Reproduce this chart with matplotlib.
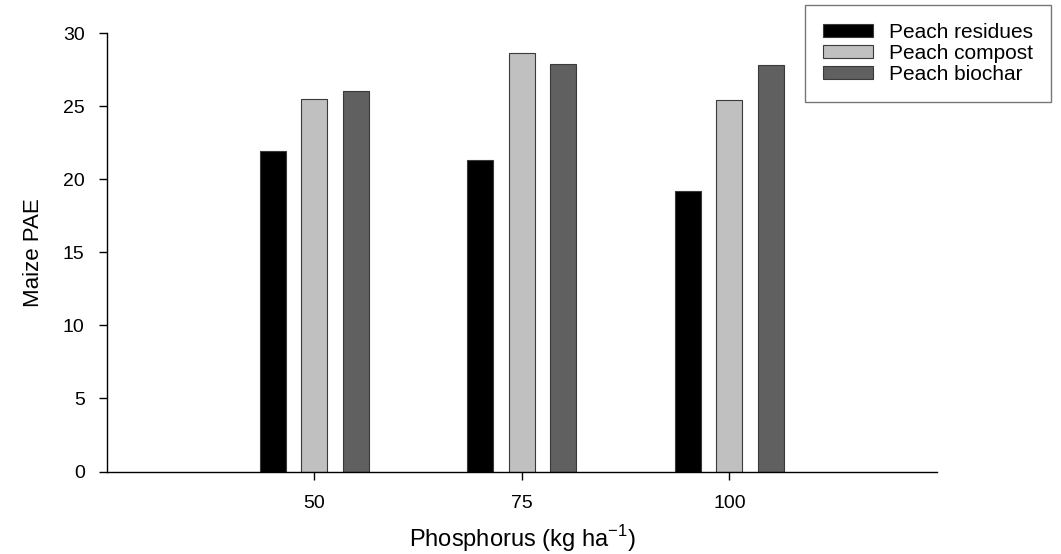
import numpy as np
import matplotlib.pyplot as plt
from matplotlib.patches import Patch

plt.rcParams['font.family'] = ['Liberation Sans', 'DejaVu Sans']

# 数据
phosphorus = ['50', '75', '100']
series_names = ['Peach residues', 'Peach compost', 'Peach biochar']
residues = [21.9, 21.3, 19.2]
compost = [25.5, 28.6, 25.4]
biochar = [26.0, 27.9, 27.8]

colors = ['#000000', '#c0c0c0', '#606060']

fig = plt.figure(figsize=(10.61, 5.54), dpi=100)
ax = fig.add_axes([0.1008, 0.1489, 0.7823, 0.7915])

x = np.arange(1, len(phosphorus) + 1)
width = 0.125
offsets = [-0.2, 0.0, 0.2]
for vals, off, c in zip([residues, compost, biochar], offsets, colors):
    ax.bar(x + off, vals, width, color=c, edgecolor='#3a3a3a', linewidth=0.8)

ax.set_xlim(0, 4)
ax.set_ylim(0, 30)
ax.set_xticks(x)
ax.set_xticklabels(phosphorus)
ax.set_yticks(np.arange(0, 31, 5))

ax.spines['top'].set_visible(False)
ax.spines['right'].set_visible(False)
ax.spines['left'].set_linewidth(1.0)
ax.spines['bottom'].set_linewidth(1.0)
ax.tick_params(axis='x', direction='out', length=6, width=1, pad=11, labelsize=14)
ax.tick_params(axis='y', direction='out', length=6, width=1, pad=10, labelsize=14)

ax.set_xlabel('Phosphorus (kg ha$^{\\mathregular{-1}}$)', fontsize=17, labelpad=8)
ax.set_ylabel('Maize PAE', fontsize=16, labelpad=14)

# 图例
handles = [Patch(facecolor=c, edgecolor='#3a3a3a', linewidth=0.8) for c in colors]
leg = fig.legend(handles, series_names, loc='upper left',
                 bbox_to_anchor=(805 / 1061, 1 - 5 / 554),
                 fontsize=15, frameon=True, fancybox=False,
                 handlelength=2.4, handleheight=0.6, handletextpad=0.8,
                 labelspacing=0.1, borderpad=0.85, borderaxespad=0)
leg.get_frame().set_edgecolor('#555555')
leg.get_frame().set_linewidth(1.0)

fig.savefig('out.png', dpi=100)
